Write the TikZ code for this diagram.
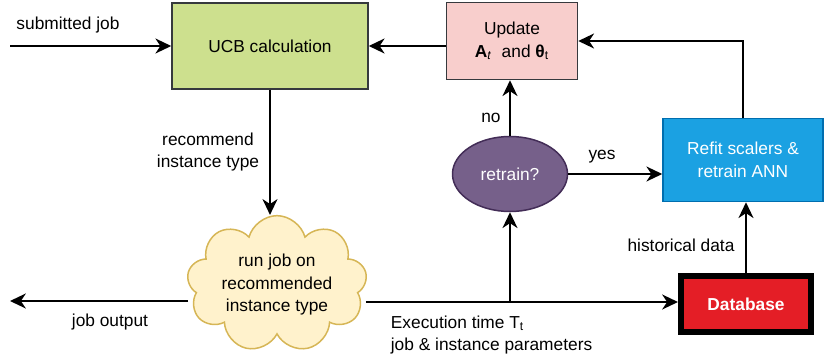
\documentclass[tikz,border=0pt]{standalone}
\usepackage{fontspec}
\setmainfont{Liberation Sans}
\usepackage{tikz}
\usetikzlibrary{arrows.meta,shapes.geometric,shapes.symbols}
\definecolor{verdeUCB}{HTML}{CDE08E}
\definecolor{rosaUpd}{HTML}{F8CECC}
\definecolor{azulRefit}{HTML}{1BA1E2}
\definecolor{azulBorde}{HTML}{006EAF}
\definecolor{moradoRet}{HTML}{76608A}
\definecolor{moradoBorde}{HTML}{432D57}
\definecolor{amarilloNube}{HTML}{FFF2CC}
\definecolor{ocreBorde}{HTML}{D6B656}
\definecolor{rojoDB}{HTML}{E41E26}
\definecolor{grisT}{HTML}{36393D}

\begin{document}
\begin{tikzpicture}[x=0.6pt,y=-0.6pt,
    every node/.style={font=\fontsize{10.4}{13.5}\selectfont,align=center},
    flecha/.style={line width=1.2pt,-{Stealth[length=9.5pt,width=9pt,inset=3pt]}},
    caja/.style={draw=grisT,line width=0.9pt,inner sep=0pt}]
          \useasboundingbox (0,0) rectangle (825,358);
          \node[caja,fill=verdeUCB,minimum width=117.6pt,minimum height=51.6pt] (ucb) at (270,46) {UCB calculation};
          \node[caja,fill=rosaUpd,minimum width=78.6pt,minimum height=46.2pt] (update) at (512,41)
            {Update\\\textbf{A}\textsubscript{\textit{t}}\ \ and \textbf{θ}\textsubscript{t}};
          \node[caja,draw=azulBorde,fill=azulRefit,text=white,minimum width=96pt,minimum height=49.8pt] (refit) at (743,160)
            {Refit scalers \&\\retrain ANN};
          \node[ellipse,draw=moradoBorde,line width=0.9pt,fill=moradoRet,text=white,inner sep=0pt,
            minimum width=69pt,minimum height=45pt] (retrain) at (510,174) {retrain?};
          \node[cloud,cloud puffs=9,aspect=1.3,draw=ocreBorde,line width=0.9pt,fill=amarilloNube,inner sep=0pt,
            minimum width=108pt,minimum height=82pt] (cloud) at (277,284) {};
          \node at (277,285) {run job on\\recommended\\instance type};
          \node[draw=black,line width=3.6pt,fill=rojoDB,text=white,font=\fontsize{10.4}{13.5}\selectfont\bfseries,
            minimum width=78pt,minimum height=33.6pt] (db) at (746,304) {Database};
          \coordinate (subin) at (10,46);
          \coordinate (jobout) at (10,301);
          \coordinate (split) at (510,302);
          \draw[flecha] (subin) -- (ucb.west);
          \draw[flecha] (update.west |- ucb.east) -- (ucb.east);
          \draw[flecha] (refit.north) |- (update.east);
          \draw[flecha] (retrain.north) -- (retrain.north |- update.south);
          \draw[flecha] (retrain.east) -- (retrain.east -| refit.west);
          \draw[flecha] (ucb.south) -- (ucb.south |- cloud.north);
          \draw[flecha] (cloud.west |- jobout) -- (jobout);
          \draw[flecha] (cloud.east |- split) -- (split -| db.west);
          \draw[flecha] (split) -- (retrain.south);
          \draw[flecha] (db.north) -- (db.north |- refit.south);
          \node at (68,25) {submitted job};
          \node at (208,152) {recommend\\instance type};
          \node at (491,118) {no};
          \node at (602,157) {yes};
          \node at (681,245) {historical data};
          \node at (110,322) {job output};
          \node[anchor=north west,align=left] at (385,310) {Execution time T\textsubscript{t}\\job \& instance parameters};
        \end{tikzpicture}
\end{document}
